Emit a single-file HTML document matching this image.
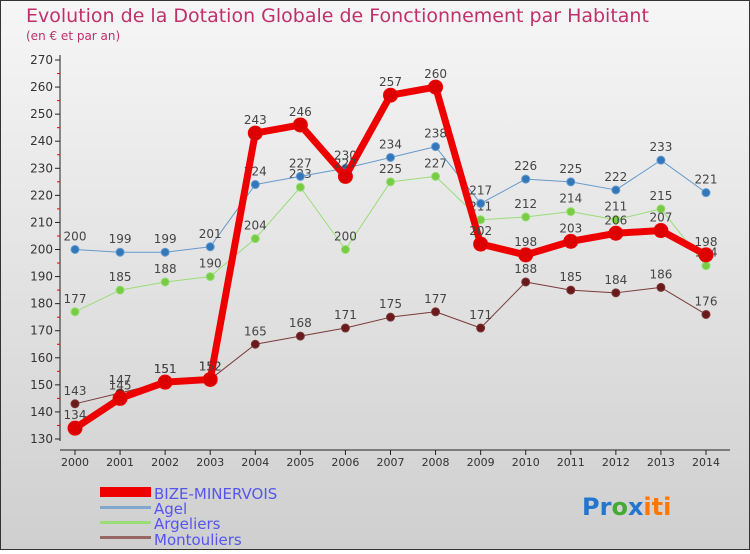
<!DOCTYPE html>
<html><head><meta charset="utf-8"><style>
body{margin:0;width:750px;height:550px;overflow:hidden;font-family:"DejaVu Sans","Liberation Sans",sans-serif}
svg text{font-family:"DejaVu Sans","Liberation Sans",sans-serif}
</style></head><body>
<svg id="c" width="750" height="550">
<defs><linearGradient id="bg" x1="0" y1="0" x2="0" y2="1"><stop offset="0" stop-color="#f6f6f6"/><stop offset="1" stop-color="#cfcfcf"/></linearGradient></defs>
<rect x="0.5" y="0.5" width="749" height="549" fill="url(#bg)" stroke="#333"/>
<text x="26" y="22" font-size="19" fill="#c0306a">Evolution de la Dotation Globale de Fonctionnement par Habitant</text>
<text x="26" y="40" font-size="12" fill="#c0306a">(en € et par an)</text>
<g id="axes"></g><g id="series"></g>
<g>
<rect x="100" y="487" width="51" height="10" fill="#ee0000"/>
<text x="154" y="499" font-size="15" fill="#5555ee">BIZE-MINERVOIS</text>
<rect x="100" y="506" width="51" height="3" fill="#80a8cc"/>
<text x="154" y="514" font-size="15" fill="#5555ee">Agel</text>
<rect x="100" y="521" width="51" height="3" fill="#99dd77"/>
<text x="154" y="529" font-size="15" fill="#5555ee">Argeliers</text>
<rect x="100" y="536" width="51" height="3" fill="#996666"/>
<text x="154" y="545" font-size="15" fill="#5555ee">Montouliers</text>
</g>
<text x="582" y="515" font-size="24" font-weight="bold"><tspan fill="#2277cc">Pr</tspan><tspan fill="#44aa33">o</tspan><tspan fill="#2277cc">x</tspan><tspan fill="#ff7700">iti</tspan></text>
</svg>
<script>
const years=[2000,2001,2002,2003,2004,2005,2006,2007,2008,2009,2010,2011,2012,2013,2014];
const yTicks=[130,140,150,160,170,180,190,200,210,220,230,240,250,260,270];
const bize=[134,145,151,152,243,246,227,257,260,202,198,203,206,207,198];
const agel=[200,199,199,201,224,227,230,234,238,217,226,225,222,233,221];
const argeliers=[177,185,188,190,204,223,200,225,227,211,212,214,211,215,194];
const montouliers=[143,147,151,152,165,168,171,175,177,171,188,185,184,186,176];
const NS='http://www.w3.org/2000/svg';
const X=i=>75+i*(631/14);
const Y=v=>439-(v-130)*(379/140);
function mk(t,a,p){const e=document.createElementNS(NS,t);for(const k in a)e.setAttribute(k,a[k]);p.appendChild(e);return e;}
const ax=document.getElementById('axes');
const yl=mk('line',{x1:60,y1:55,x2:60,y2:441,stroke:'#222'},ax);


const xl=mk('line',{x1:60,y1:450,x2:730,y2:450,stroke:'#222'},ax);


yTicks.forEach(v=>{
  mk('line',{x1:55,y1:Y(v),x2:60,y2:Y(v),stroke:'#222'},ax);
  if(v<270)mk('line',{x1:57,y1:Y(v+5),x2:60,y2:Y(v+5),stroke:'#e00'},ax);
  const t=mk('text',{x:53,y:Y(v)+4,'font-size':12,'text-anchor':'end',fill:'#333'},ax);
  t.textContent=v;
  
  
});
years.forEach((y,i)=>{
  mk('line',{x1:X(i),y1:450,x2:X(i),y2:455,stroke:'#222'},ax);
  const t=mk('text',{x:X(i),y:466,'font-size':11,'text-anchor':'middle',fill:'#333'},ax);
  t.textContent=y;
  
  
});
const sg=document.getElementById('series');
function series(d,name,col,dot,w,r){
  const g=mk('g',{},sg);
  
  
  const p=mk('polyline',{points:d.map((v,i)=>X(i)+','+Y(v)).join(' '),fill:'none',stroke:col,'stroke-width':w,'stroke-linejoin':'round'},g);
  
  
  d.forEach((v,i)=>{
    const c=mk('circle',{cx:X(i),cy:Y(v),r:r,fill:dot,stroke:col,'stroke-width':1},g);
    
    
    const t=mk('text',{x:X(i),y:Y(v)-9,'font-size':12,'text-anchor':'middle',fill:'#444'},g);
    t.textContent=v;
    
    
  });
}
series(montouliers,'montouliers','#7a3a3a','#6a1a1a',1,4);
series(argeliers,'argeliers','#99dd77','#77cc44',1,4);
series(agel,'agel','#6699cc','#3377bb',1,4);
series(bize,'bize-minervois','#ee0000','#dd0000',7,7);
</script>
</body></html>
